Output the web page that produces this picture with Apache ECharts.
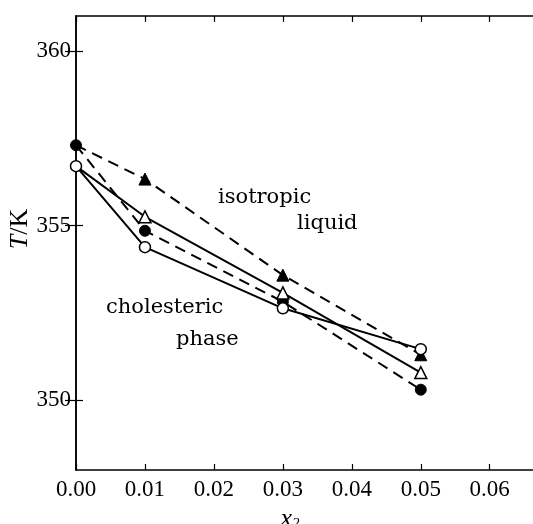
<!DOCTYPE html>
<html>
<head>
<meta charset="utf-8">
<script src="https://cdn.jsdelivr.net/npm/echarts@6/dist/echarts.min.js"></script>
<style>
html,body{margin:0;padding:0;background:#fff;overflow:hidden;width:533px;height:524px;}
#c{width:538px;height:524px;}
</style>
</head>
<body>
<div id="c"></div>
<script>
const xVals = [0.00, 0.01, 0.03, 0.05];
const filledCircle = [357.3, 354.85, 352.82, 350.3];
const filledTriangle = [357.3, 356.33, 353.58, 351.3];
const openCircle = [356.7, 354.38, 352.63, 351.46];
const openTriangle = [356.7, 355.25, 353.07, 350.79];
const xTicks = [0.00, 0.01, 0.02, 0.03, 0.04, 0.05, 0.06];
const yTicks = [350, 355, 360];

const chart = echarts.init(document.getElementById('c'), null, {renderer: 'canvas'});
const FONT = '"Liberation Serif", "DejaVu Serif", serif';
const TFONT = '"DejaVu Serif", serif';

function mk(vals, hideFirst) {
  return xVals.map((x, i) => (hideFirst && i === 0) ? {value: [x, vals[i]], symbol: 'none'} : [x, vals[i]]);
}

const axisLine = {show: true, lineStyle: {color: '#000', width: 1.5}};
const baseX = {
  type: 'value', min: 0, max: 0.067,
  axisLine: axisLine, splitLine: {show: false},
  axisTick: {inside: true, length: 6, lineStyle: {color: '#000', width: 1.2}, customValues: xTicks}
};
const baseY = {
  type: 'value', min: 348, max: 361,
  axisLine: axisLine, splitLine: {show: false},
  axisTick: {inside: true, length: 7, lineStyle: {color: '#000', width: 1.2}, customValues: yTicks}
};

const option = {
  backgroundColor: '#fff',
  animation: false,
  grid: {left: 76, top: 16, right: 0, bottom: 54, containLabel: false, outerBoundsMode: 'none'},
  xAxis: [
    Object.assign({}, baseX, {
      position: 'bottom',
      axisLabel: {customValues: xTicks, formatter: v => v.toFixed(2), color: '#000',
        fontFamily: FONT, fontSize: 23, margin: 8}
    }),
    Object.assign({}, baseX, {position: 'top', axisLabel: {show: false}})
  ],
  yAxis: [
    Object.assign({}, baseY, {
      position: 'left',
      axisLabel: {customValues: yTicks, formatter: v => String(v), color: '#000',
        fontFamily: FONT, fontSize: 23, margin: 5}
    }),
    Object.assign({}, baseY, {position: 'right', axisLabel: {show: false},
      axisTick: {inside: true, length: 11, lineStyle: {color: '#000', width: 1.2}, customValues: yTicks}})
  ],
  series: [
    {type: 'line', data: mk(filledTriangle, true), symbol: 'triangle', symbolSize: 12,
      lineStyle: {color: '#000', width: 2, type: [11, 7]},
      itemStyle: {color: '#000', borderColor: '#000', borderWidth: 1}, z: 2},
    {type: 'line', data: mk(filledCircle, false), symbol: 'circle', symbolSize: 11,
      lineStyle: {color: '#000', width: 2, type: [11, 7]},
      itemStyle: {color: '#000', borderColor: '#000', borderWidth: 1}, z: 3},
    {type: 'line', data: mk(openTriangle, true), symbol: 'triangle', symbolSize: 12,
      lineStyle: {color: '#000', width: 2},
      itemStyle: {color: '#fff', borderColor: '#000', borderWidth: 1.5}, z: 4},
    {type: 'line', data: mk(openCircle, false), symbol: 'circle', symbolSize: 11,
      lineStyle: {color: '#000', width: 2},
      itemStyle: {color: '#fff', borderColor: '#000', borderWidth: 1.5}, z: 5}
  ],
  graphic: [
    {type: 'text', x: 218, y: 198, style: {text: 'isotropic', font: '21px ' + TFONT, fill: '#000', textVerticalAlign: 'middle'}},
    {type: 'text', x: 297, y: 224, style: {text: 'liquid', font: '21px ' + TFONT, fill: '#000', textVerticalAlign: 'middle'}},
    {type: 'text', x: 106, y: 308, style: {text: 'cholesteric', font: '21px ' + TFONT, fill: '#000', textVerticalAlign: 'middle'}},
    {type: 'text', x: 176, y: 340, style: {text: 'phase', font: '21px ' + TFONT, fill: '#000', textVerticalAlign: 'middle'}},
    {type: 'text', x: 20, y: 229, rotation: Math.PI / 2,
      style: {text: '{i|T}{n|/K}', textAlign: 'center', textVerticalAlign: 'middle',
        rich: {i: {fontFamily: FONT, fontStyle: 'italic', fontSize: 26, color: '#000'},
               n: {fontFamily: FONT, fontSize: 26, color: '#000'}}}},
    {type: 'text', x: 290, y: 519,
      style: {text: '{i|x}{s|2}', textAlign: 'center', textVerticalAlign: 'middle',
        rich: {i: {fontFamily: FONT, fontStyle: 'italic', fontSize: 26, color: '#000'},
               s: {fontFamily: FONT, fontStyle: 'italic', fontSize: 15, color: '#000', verticalAlign: 'bottom', padding: [8, 0, 0, 0]}}}}
  ]
};
chart.setOption(option);
</script>
</body>
</html>
